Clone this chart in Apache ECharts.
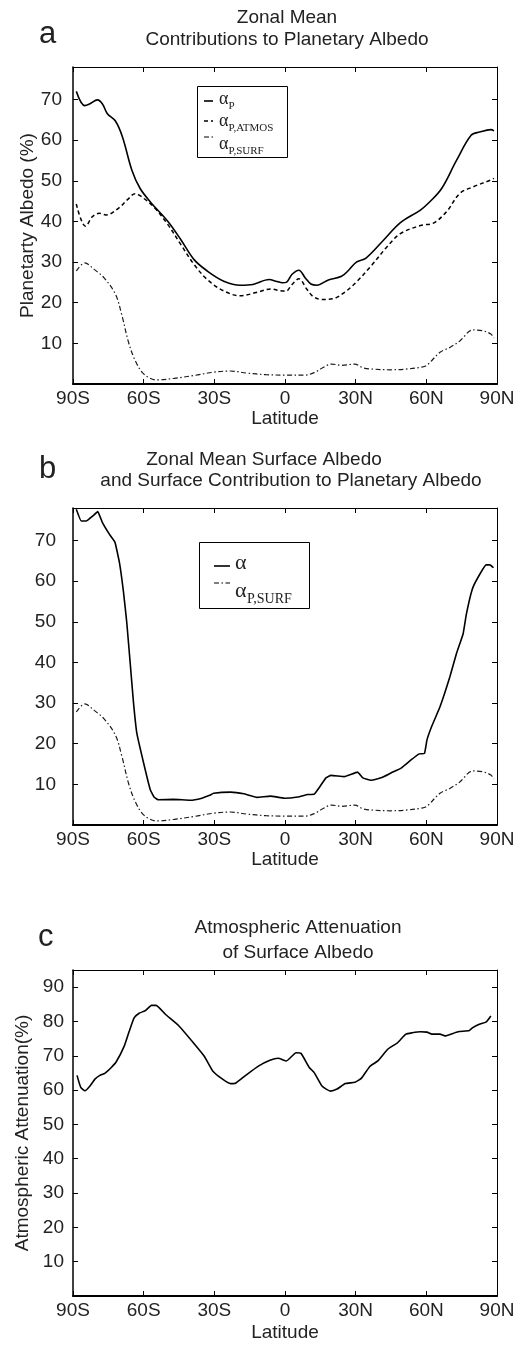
<!DOCTYPE html>
<html>
<head>
<meta charset="utf-8">
<script src="https://cdn.jsdelivr.net/npm/echarts@6/dist/echarts.min.js"></script>
<style>
html,body{margin:0;padding:0;background:#fff;}
#chart{width:531px;height:1345px;}
</style>
</head>
<body>
<div id="chart"></div>
<script>
// ---------- DATA ----------
const latTicks = [-90, -60, -30, 0, 30, 60, 90];

// Panel a: contributions to planetary albedo [lat, %]
const alphaP = [[-88.6,72],[-85,68.5],[-83,68.9],[-79.6,69.9],[-77.5,68.9],[-75.4,66.5],[-72,64.7],[-69,60.8],[-65,52.6],[-61.5,48.1],[-56.7,44.5],[-49.7,40],[-44.2,35.5],[-38.6,30.6],[-33,27.8],[-26,25.3],[-19,24.3],[-13.6,24.5],[-6.7,25.7],[-3.9,25.3],[-1,24.9],[0.5,25],[3,27],[5.9,28],[8.6,26.1],[11,24.6],[13.5,24.3],[18.4,25.6],[24,26.5],[27,28],[30.3,30],[34.4,31],[42,35.5],[49,39.7],[57.5,42.8],[61.6,44.9],[66.5,48.1],[72.8,55],[79,61.2],[82.6,62],[87.4,62.6],[88.7,62.3]];
const alphaPAtmos = [[-88.6,44.3],[-84.7,38.8],[-81.7,41.2],[-78.9,42],[-76,41.6],[-70.6,43.3],[-67,45.3],[-63.6,46.8],[-60,45.7],[-55.3,43.3],[-49.7,39.2],[-44.2,34.3],[-38.6,29.4],[-33,25.7],[-26,22.9],[-19,21.7],[-12.2,22.5],[-6,23.4],[-1.1,22.9],[0.5,22.9],[3,24.5],[5.9,25.9],[9.3,23.3],[12,21.5],[15.6,20.8],[20.5,21],[25.4,22.6],[30.3,25.1],[36.5,29],[43.5,33.9],[49,37],[57.5,39],[63,39.6],[68.6,42.4],[74.2,46.9],[79.8,48.5],[87.4,50.2],[88.7,50.6]];
const alphaPSurf = [[-88.6,27.8],[-85,29.8],[-81,28.2],[-76.8,26.1],[-72,22.1],[-69.2,16.8],[-66.4,10.2],[-63.6,5.8],[-60,2.5],[-54.6,1],[-47,1.4],[-38.6,2.1],[-30.3,2.9],[-23.3,3.2],[-16.4,2.7],[-8,2.3],[0,2.2],[8.6,2.2],[12.8,2.9],[16,4],[19.8,4.9],[24,4.6],[29.6,4.9],[33,4],[36.5,3.7],[44.9,3.5],[52,3.7],[57.5,4.1],[60,4.5],[65.8,7.8],[70,9],[74.2,10.6],[79.8,13.3],[84,13.1],[87.4,12.3],[88.7,11.3]];

// Panel b: surface albedo [lat, %]
const alphaSurface = [[-88.6,77.7],[-86.5,74.8],[-84.4,74.8],[-81.7,76],[-79.5,77.1],[-77.5,74.4],[-74.5,71.5],[-72.2,69.6],[-70.3,64.6],[-68.6,57.5],[-67.2,50],[-65.7,39.7],[-64.3,30],[-62.9,22.6],[-60,15.2],[-57.2,8.7],[-55.5,6.8],[-53.7,6.2],[-47.3,6.3],[-40.2,6.1],[-35.3,6.6],[-32,7.3],[-30.3,7.8],[-23.2,8.1],[-17.5,7.7],[-11.9,6.8],[-6.2,7.1],[-0.3,6.6],[5.4,6.9],[9.6,7.5],[12.4,7.6],[15,9.6],[17.4,11.6],[19.5,12.2],[25.2,11.9],[30.8,13],[33,11.6],[36.5,11],[40.8,11.6],[45,12.8],[49.3,14],[53.5,16],[57,17.5],[59.2,17.6],[60.3,21],[62.3,24.3],[65.8,29.1],[70,36.5],[72.8,42.2],[75.6,47],[77,51.9],[79.5,58],[81.9,60.9],[85.4,64],[87,64],[88.5,63.3]];

// Panel c: atmospheric attenuation [lat, %]
const attenuation = [[-88.3,64.3],[-86.7,60.8],[-84.9,59.8],[-82.8,61.2],[-80.7,63.2],[-78.6,64.3],[-76.5,64.9],[-73.75,66.6],[-71.7,68.2],[-68.2,72.9],[-66.1,77.2],[-64,81.1],[-61.9,82.4],[-59.2,83.2],[-56.7,84.7],[-54.7,84.7],[-50.8,82.1],[-45.3,78.9],[-38.3,73.3],[-34.2,69.8],[-30.7,65.6],[-26.5,63.2],[-23.1,61.9],[-21,62],[-16.1,64.6],[-11.3,67],[-6.4,68.7],[-2.9,69.3],[0.6,68.5],[4.7,70.9],[6.8,70.7],[10.3,66.6],[12.4,65.1],[15.8,61.1],[19.3,59.7],[22.1,60.3],[25.6,61.9],[29.7,62.3],[32.5,63.5],[36,66.9],[39.4,68.5],[43.6,71.9],[47.8,73.8],[51.3,76.3],[54,76.7],[57.5,77],[60.3,76.9],[62.4,76.3],[65.8,76.3],[67.9,75.8],[70,76.2],[73.5,77],[78.3,77.4],[79.7,78.2],[82.5,79.2],[85.3,79.8],[87.4,81.6]];

const titles = {
  a: ['Zonal Mean', 'Contributions to Planetary Albedo'],
  b: ['Zonal Mean Surface Albedo', 'and Surface Contribution to Planetary Albedo'],
  c: ['Atmospheric Attenuation', 'of Surface Albedo']
};
const yNames = ['Planetarty Albedo (%)', '', 'Atmospheric Attenuation(%)'];
const yMax = [78, 78, 95];
const legendA = [['P', 'solid'], ['P,ATMOS', 'dashed'], ['P,SURF', 'dashdot']];
const legendB = [['', 'solid'], ['P,SURF', 'dashdot']];

// ---------- CHART ----------
const FONT = '"Liberation Sans", Arial, sans-serif';
const SERIF = '"Liberation Serif", "Times New Roman", serif';
const TXT = '#222';
const FS = 19;

const grids = [
  {left: 73, top: 67, width: 424, height: 317},
  {left: 73, top: 508, width: 424, height: 317},
  {left: 73, top: 970, width: 424, height: 326}
];
const latNameGap = [25, 22, 27];
const yNameGap = [36, 0, 41];
const yLabelMargin = [11, 17, 9];

function latFmt(v) {
  if (latTicks.indexOf(v) < 0) return '';
  if (v < 0) return (-v) + 'S';
  if (v > 0) return v + 'N';
  return '0';
}

const xAxes = [], yAxes = [];
grids.forEach((g, i) => {
  xAxes.push({
    type: 'value', gridIndex: i, position: 'bottom', min: -90, max: 90, interval: 30,
    axisLine: {show: true, onZero: false, lineStyle: {color: '#000', width: 2}},
    axisTick: {show: true, inside: true, length: 5, lineStyle: {color: '#000', width: 1}},
    axisLabel: {formatter: latFmt, fontFamily: FONT, fontSize: FS, color: TXT, margin: 5},
    splitLine: {show: false},
    name: 'Latitude', nameLocation: 'middle', nameGap: latNameGap[i],
    nameTextStyle: {fontFamily: FONT, fontSize: FS, color: TXT}
  });
  xAxes.push({
    type: 'value', gridIndex: i, position: 'top', min: -90, max: 90, interval: 30,
    axisLine: {show: true, onZero: false, lineStyle: {color: '#000', width: 1}},
    axisTick: {show: true, inside: true, length: 5, lineStyle: {color: '#000', width: 1}},
    axisLabel: {show: false}, splitLine: {show: false}
  });
  yAxes.push({
    type: 'value', gridIndex: i, position: 'left', min: 0, max: yMax[i], interval: 10,
    axisLine: {show: true, onZero: false, lineStyle: {color: '#000', width: 1.5}},
    axisTick: {show: true, inside: true, length: 5, lineStyle: {color: '#000', width: 1}},
    axisLabel: {formatter: v => (v > 0 && v % 10 === 0) ? String(v) : '', fontFamily: FONT, fontSize: FS, color: TXT, margin: yLabelMargin[i]},
    splitLine: {show: false},
    name: yNames[i], nameLocation: 'middle', nameGap: yNameGap[i], nameRotate: 90,
    nameMoveOverlap: false,
    nameTextStyle: {fontFamily: FONT, fontSize: FS, color: TXT}
  });
  yAxes.push({
    type: 'value', gridIndex: i, position: 'right', min: 0, max: yMax[i], interval: 10,
    axisLine: {show: true, onZero: false, lineStyle: {color: '#000', width: 1}},
    axisTick: {show: true, inside: true, length: 5, lineStyle: {color: '#000', width: 1}},
    axisLabel: {show: false}, splitLine: {show: false}
  });
});

const styles = {
  solid: {color: '#000', width: 1.6, type: 'solid'},
  dashed: {color: '#000', width: 1.5, type: [4, 3]},
  dashdot: {color: '#1a1a1a', width: 1.2, type: [5, 2.5, 1.5, 2.5]}
};
const dashOf = {solid: null, dashed: [4, 3], dashdot: [5, 2.5, 1.5, 2.5]};

function line(name, data, gi, style, smooth) {
  return {
    type: 'line', name: name, data: data, xAxisIndex: gi * 2, yAxisIndex: gi * 2,
    symbol: 'none', smooth: smooth, lineStyle: style, itemStyle: {color: style.color},
    silent: true, z: 3
  };
}

const series = [
  line('αP', alphaP, 0, styles.solid, 0.35),
  line('αP,ATMOS', alphaPAtmos, 0, styles.dashed, 0.35),
  line('αP,SURF', alphaPSurf, 0, styles.dashdot, 0.35),
  line('α', alphaSurface, 1, styles.solid, 0.1),
  line('αP,SURF (b)', alphaPSurf, 1, styles.dashdot, 0.35),
  line('Attenuation', attenuation, 2, styles.solid, 0.15)
];

const panelLabels = [['a', 39, 34], ['b', 39, 469], ['c', 38, 937]];
const titlePos = [
  [[287, 18], [287, 40]],
  [[264, 460], [291, 481]],
  [[298, 928], [298, 953]]
];

const graphics = [];
['a', 'b', 'c'].forEach((k, i) => {
  titles[k].forEach((t, j) => {
    graphics.push({type: 'text', x: titlePos[i][j][0], y: titlePos[i][j][1], silent: true,
      style: {text: t, font: FS + 'px ' + FONT, fill: TXT, align: 'center', verticalAlign: 'middle'}});
  });
  graphics.push({type: 'text', x: panelLabels[i][1], y: panelLabels[i][2], silent: true,
    style: {text: panelLabels[i][0], font: '31px ' + FONT, fill: TXT, align: 'left', verticalAlign: 'middle'}});
});

// legend boxes, drawn as graphic elements
function addLegend(box, items, cfg) {
  graphics.push({type: 'rect', shape: box, z: 5, silent: true,
    style: {fill: '#fff', stroke: '#000', lineWidth: 1}});
  items.forEach((it, j) => {
    const ly = cfg.lineY[j];
    graphics.push({type: 'line', z: 6, silent: true,
      shape: {x1: cfg.lx1, y1: ly, x2: cfg.lx2, y2: ly},
      style: {stroke: '#000', lineWidth: it[1] === 'dashdot' ? 1.2 : 1.6, lineDash: dashOf[it[1]]}});
    graphics.push({type: 'text', z: 6, silent: true, x: cfg.ax, y: cfg.textY[j],
      style: {text: 'α', font: cfg.aSize + 'px ' + SERIF, fill: TXT, align: 'left', verticalAlign: 'middle'}});
    if (it[0]) {
      graphics.push({type: 'text', z: 6, silent: true, x: cfg.sx, y: cfg.textY[j] + cfg.subDy,
        style: {text: it[0], font: cfg.sSize + 'px ' + SERIF, fill: TXT, align: 'left', verticalAlign: 'middle'}});
    }
  });
}
addLegend({x: 197.5, y: 86.5, width: 90, height: 71}, legendA,
  {lineY: [101, 121, 137], textY: [99, 121, 144], lx1: 204, lx2: 213, ax: 219, sx: 228.5, aSize: 18, sSize: 11, subDy: 7});
addLegend({x: 199.5, y: 542.5, width: 110, height: 66}, legendB,
  {lineY: [566, 583], textY: [563, 591], lx1: 214, lx2: 230, ax: 235, sx: 247, aSize: 22, sSize: 14, subDy: 8});

const option = {
  animation: false,
  backgroundColor: '#fff',
  grid: grids,
  xAxis: xAxes,
  yAxis: yAxes,
  series: series,
  graphic: graphics
};

const chart = echarts.init(document.getElementById('chart'), null, {renderer: 'canvas'});
chart.setOption(option);
</script>
</body>
</html>
